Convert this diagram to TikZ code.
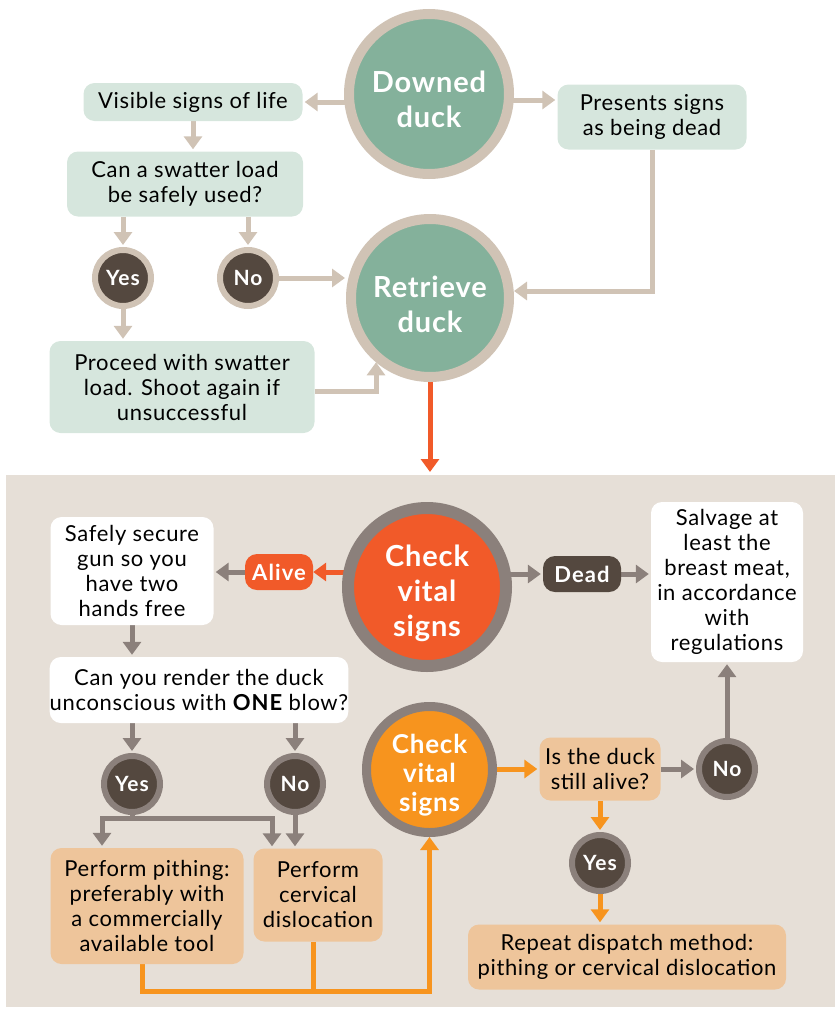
\documentclass[tikz,border=0pt]{standalone}
\usepackage{fontspec}
\setmainfont{Lato}[LetterSpace=3]
\newfontfamily\wideb{Lato}[LetterSpace=5]
\newfontfamily\widec{Lato}[LetterSpace=3]
\usetikzlibrary{arrows.meta}
\definecolor{circgreen}{HTML}{84B19B}
\definecolor{tanring}{HTML}{D0C3B5}
\definecolor{boxgreen}{HTML}{D6E6DD}
\definecolor{darkbrown}{HTML}{54483F}
\definecolor{grayring}{HTML}{8B807B}
\definecolor{panelbg}{HTML}{E6DFD7}
\definecolor{redor}{HTML}{F15A29}
\definecolor{oran}{HTML}{F7941E}
\definecolor{peach}{HTML}{EEC59B}
\newcommand\cirtext[2][18pt]{\raisebox{0pt}[\dimexpr\height+#1\relax]{\begin{tabular}{@{}c@{}}#2\end{tabular}}}
\pgfdeclarelayer{panel}\pgfdeclarelayer{lines}\pgfsetlayers{panel,lines,main}
\tikzset{
  txt/.style={font=\fontsize{22}{25}\selectfont, align=center, inner sep=0pt, text=black},
  gbox/.style={txt, fill=boxgreen, rounded corners=11pt},
  wbox/.style={txt, fill=white, rounded corners=11pt},
  pbox/.style={txt, fill=peach, rounded corners=11pt},
  bigcirc/.style={circle, inner sep=0pt, font=\fontsize{29}{35}\selectfont\widec\bfseries, text=white},
  smallcirc/.style={circle, fill=darkbrown, line width=6pt, minimum size=56pt, inner sep=0pt, text=white, font=\fontsize{21}{24}\selectfont\wideb\bfseries},
  pill/.style={rounded corners=12pt, text=white, font=\fontsize{22}{24}\selectfont\wideb\bfseries, minimum height=36pt, inner sep=0pt},
  tip/.style={-{Triangle[width=18pt,length=13pt]}},
  tarr/.style={line width=5pt, draw=tanring, tip},
  garr/.style={line width=5pt, draw=grayring, tip},
  rarr/.style={line width=5pt, draw=redor, tip},
  oarr/.style={line width=5pt, draw=oran, tip},
  oline/.style={line width=5pt, draw=oran},
  gline/.style={line width=5pt, draw=grayring}
}
\begin{document}
\begin{tikzpicture}[x=1pt,y=-1pt]
\useasboundingbox (0,0) rectangle (835,1009);
\begin{pgfonlayer}{panel}
\fill[panelbg] (6,475) rectangle (835,1007);
\end{pgfonlayer}

% top part
\node[bigcirc, fill=circgreen, draw=tanring, line width=10pt, minimum size=160pt] (dd) at (429,94) {\cirtext{Downed\\duck}};
\node[bigcirc, fill=circgreen, draw=tanring, line width=10pt, minimum size=158pt] (rd) at (430,298) {\cirtext[20pt]{Retrieve\\duck}};
\node[gbox, minimum width=219pt, minimum height=38pt] (vis) at (193,102) {Visible signs of life};
\node[gbox, minimum width=236pt, minimum height=65pt] (swat) at (185,184) {Can a swatter load\\be safely used?};
\node[gbox, minimum width=189pt, minimum height=65pt] (pres) at (652,117) {Presents signs\\as being dead};
\node[smallcirc, draw=tanring] (yes1) at (123,278) {Yes};
\node[smallcirc, draw=tanring] (no1) at (248,278) {No};
\node[gbox, minimum width=265pt, minimum height=92pt] (proc) at (182,387) {Proceed with swatter\\load. Shoot again if\\unsuccessful};
\coordinate (ptop) at (430,472);

% bottom part
\node[bigcirc, fill=redor, draw=grayring, line width=12pt, minimum size=158pt] (cv1) at (427,587) {\cirtext[14pt]{Check\\vital\\signs}};
\node[pill, fill=redor, minimum width=68pt] (alive) at (279,572) {Alive};
\node[pill, fill=darkbrown, minimum width=78pt] (dead) at (582,574) {Dead};
\node[wbox, minimum width=163pt, minimum height=108pt] (safe) at (132,571) {Safely secure\\gun so you\\have two\\hands free};
\node[wbox, minimum width=298pt, minimum height=66pt] (render) at (199,690) {Can you render the duck\\unconscious with {\wideb\bfseries ONE} blow?};
\node[wbox, minimum width=152pt, minimum height=160pt] (salv) at (727,582) {Salvage at\\least the\\breast meat,\\in accordance\\with\\regulations};
\node[smallcirc, draw=grayring] (yes2) at (132,784) {Yes};
\node[smallcirc, draw=grayring] (no2) at (295,784) {No};
\node[pbox, minimum width=193pt, minimum height=116pt] (pith) at (147,906) {Perform pithing:\\preferably with\\a commercially\\available tool};
\node[pbox, minimum width=129pt, minimum height=93pt] (cerv) at (318,895) {Perform\\cervical\\dislocation};
\node[bigcirc, fill=oran, draw=grayring, line width=9pt, minimum size=126pt, font=\fontsize{26}{29}\selectfont\widec\bfseries] (cv2) at (429.5,769.5) {\cirtext[14pt]{Check\\vital\\signs}};
\node[pbox, minimum width=121pt, minimum height=63pt] (isd) at (600,769) {Is the duck\\still alive?};
\node[smallcirc, draw=grayring] (no3) at (727,769) {No};
\node[smallcirc, draw=grayring] (yes3) at (600,863) {Yes};
\node[pbox, minimum width=318pt, minimum height=65pt] (rep) at (627,957) {Repeat dispatch method:\\pithing or cervical dislocation};
\coordinate (splitL) at (102,818);
\coordinate (splitR) at (272,818);
\coordinate (obot) at (313,991);

\begin{pgfonlayer}{lines}
% top connectors
\draw[tarr, shorten >=2pt] (dd.center |- vis.east) -- (vis.east);
\draw[tarr, shorten >=2pt] ([yshift=17pt]pres.west -| dd.center) -- ([yshift=17pt]pres.west);
\draw[tarr, shorten >=2pt] (vis.south) -- (vis.south |- swat.north);
\draw[tarr, shorten >=2pt] (swat.south -| yes1) -- (yes1.north);
\draw[tarr, shorten >=2pt] (swat.south -| no1) -- (no1.north);
\draw[tarr, shorten >=1pt] (no1.east) -- (no1.east -| rd.west);
\draw[tarr, shorten >=2pt] (yes1.south) -- (yes1.south |- proc.north);
\draw[tarr] ([yshift=-4pt]proc.east) -| (rd.230);
\draw[tarr] (pres.south) |- ([yshift=7pt]rd.east);
\draw[rarr] (rd.south) -- (ptop);
% bottom connectors
\draw[rarr] (cv1.center |- alive.east) -- (alive.east);
\draw[garr, shorten >=2pt] (alive.west) -- (alive.west -| safe.east);
\draw[garr, shorten >=2pt] (cv1.center |- dead.west) -- (dead.west);
\draw[garr, shorten >=2pt] (dead.east) -- (dead.east -| salv.west);
\draw[garr, shorten >=2pt] (safe.south) -- (safe.south |- render.north);
\draw[garr, shorten >=2pt] (render.south -| yes2) -- (yes2.north);
\draw[garr, shorten >=2pt] (render.south -| no2) -- (no2.north);
\draw[gline] (yes2.south) -- (yes2.south |- splitL);
\draw[line width=5pt, draw=grayring, {Triangle[width=18pt,length=13pt]}-{Triangle[width=18pt,length=13pt]}, shorten <=2pt, shorten >=2pt] (splitL |- pith.north) -- (splitL) -- (splitR) -- (splitR |- cerv.north);
\draw[garr, shorten >=2pt] (no2.south) -- (no2.south |- cerv.north);
\draw[oarr] ([xshift=-5pt]pith.south) |- (obot) -| (cv2.south);
\draw[oline] (cerv.south -| obot) -- (obot);
\draw[oarr, shorten >=2pt] (cv2.center |- isd.west) -- (isd.west);
\draw[garr, shorten >=2pt] (isd.east) -- (no3.west);
\draw[garr, shorten >=2pt] (no3.north) -- (no3.north |- salv.south);
\draw[oarr, shorten >=2pt] (isd.south) -- (yes3.north);
\draw[oarr, shorten >=2pt] (yes3.south) -- (yes3.south |- rep.north);
\end{pgfonlayer}
\end{tikzpicture}
\end{document}
